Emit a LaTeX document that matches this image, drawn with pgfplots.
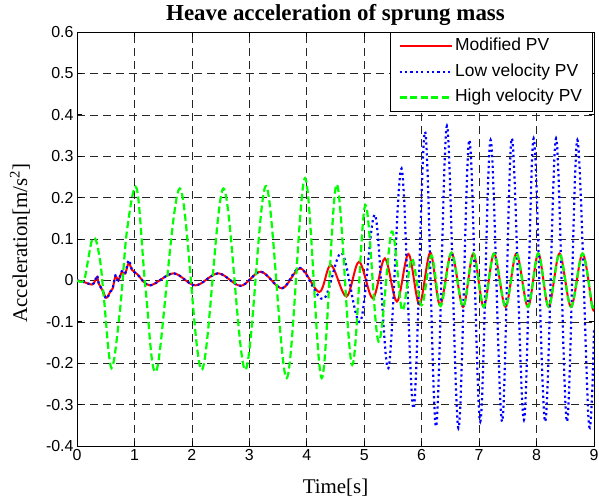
\documentclass[border=0pt]{standalone}
\usepackage{pgfplots}
\pgfplotsset{compat=1.18}
\usepackage{fontspec}
\setmainfont{Liberation Serif}
\newfontfamily\arial{Liberation Sans}
\usetikzlibrary{calc}
\begin{document}
\begin{tikzpicture}
\begin{axis}[
  scale only axis,
  width=517bp, height=414bp,
  xmin=0, xmax=9, ymin=-0.4, ymax=0.6,
  xtick={0,1,...,9},
  ytick={-0.4,-0.3,-0.2,-0.1,0,0.1,0.2,0.3,0.4,0.5,0.6},
  yticklabels={-0.4,-0.3,-0.2,-0.1,0,0.1,0.2,0.3,0.4,0.5,0.6},
  /pgf/number format/assume math mode=true,
  tick label style={font=\arial\fontsize{16}{19}\selectfont, black},
  tick align=inside, tick pos=both,
  major tick length=5bp,
  every tick/.style={black, line width=0.7bp},
  axis line style={black, line width=0.8bp},
  grid=major,
  major grid style={black!85, line width=0.6bp, dash pattern=on 8bp off 5bp},
  title={\bfseries Heave acceleration of sprung mass},
  every axis title/.style={at={(axis description cs:0.5,1.0266)}, anchor=base, font=\fontsize{23}{27}\selectfont},
  xlabel={Time[s]},
  xlabel style={at={(axis description cs:0.5,-0.1135)}, anchor=base, font=\fontsize{21}{25}\selectfont},
  ylabel={Acceleration[m/s\textsuperscript{2}]},
  ylabel style={at={(axis description cs:-0.0967,0.49)}, anchor=base, rotate=0, font=\fontsize{21}{25}\selectfont},
  legend style={at={(axis description cs:1,1)}, anchor=north east, xshift=-1bp,
    draw=black, line width=0.8bp, fill=white, inner xsep=8bp, inner ysep=3bp,
    font=\arial\fontsize{17.5}{20}\selectfont, row sep=3.5bp,
    nodes={inner sep=2.5bp, text height=13bp, text depth=4bp}},
  legend cell align=left,
  legend image code/.code={\draw[#1] (0bp,0bp) -- (52bp,0bp);},
]
\coordinate (SW) at (rel axis cs:0,0);
\coordinate (NE) at (rel axis cs:1,1);
% Modified PV
\addplot[red, line width=2bp, smooth, tension=0.55] coordinates {
(0,0) (0.12,-0.004) (0.26,-0.010) (0.31,-0.002) (0.35,0.008) (0.38,-0.008)
(0.44,-0.023) (0.51,-0.042) (0.58,-0.027) (0.62,-0.020) (0.67,0.010) (0.72,0.000)
(0.78,0.020) (0.84,0.017) (0.90,0.042) (0.96,0.025) (1.05,0.015) (1.27,-0.012)
(1.68,0.017) (2.06,-0.012) (2.46,0.017) (2.85,-0.013) (3.20,0.021) (3.57,-0.019)
(3.89,0.029) (4.22,-0.028) (4.42,0.037) (4.69,-0.039) (4.91,0.045) (5.15,-0.043)
(5.36,0.053) (5.57,-0.051) (5.77,0.064) (5.96,-0.058) (6.15,0.067) (6.32,-0.060)
(6.52,0.067) (6.72,-0.064) (6.90,0.065) (7.08,-0.064) (7.26,0.065) (7.46,-0.064)
(7.65,0.065) (7.85,-0.064) (8.03,0.065) (8.21,-0.064) (8.40,0.065) (8.60,-0.064)
(8.80,0.065) (8.97,-0.064) (9.0,-0.060)
};
\addlegendentry{Modified PV}
% Low velocity PV
\addplot[blue, line width=2.2bp, dash pattern=on 2.2bp off 3.2bp, smooth, tension=0.55] coordinates {
(0,0) (0.12,-0.004) (0.26,-0.010) (0.31,-0.002) (0.35,0.012) (0.38,-0.008)
(0.44,-0.023) (0.51,-0.044) (0.58,-0.027) (0.62,-0.020) (0.67,0.012) (0.72,0.000)
(0.78,0.022) (0.84,0.017) (0.90,0.049) (0.96,0.025) (1.05,0.015) (1.27,-0.012)
(1.68,0.017) (2.06,-0.012) (2.46,0.017) (2.85,-0.013) (3.20,0.021) (3.57,-0.019)
(3.89,0.030) (4.29,-0.045) (4.61,0.066) (4.93,-0.100) (5.19,0.158) (5.42,-0.212)
(5.65,0.270) (5.86,-0.309) (6.06,0.359) (6.25,-0.353) (6.44,0.373) (6.64,-0.357)
(6.83,0.339) (7.02,-0.341) (7.20,0.339) (7.40,-0.341) (7.57,0.343) (7.78,-0.337)
(7.95,0.343) (8.15,-0.341) (8.34,0.343) (8.53,-0.341) (8.71,0.339) (8.91,-0.345)
(9.0,-0.12)
};
\addlegendentry{Low velocity PV}
% High velocity PV
\addplot[green, line width=2.2bp, dash pattern=on 7bp off 3.5bp, smooth, tension=0.55] coordinates {
(0,0) (0.12,0.000) (0.20,0.055) (0.26,0.097) (0.33,0.097) (0.41,0.040)
(0.47,-0.045) (0.60,-0.212) (0.75,-0.070) (0.87,0.120) (1.04,0.222) (1.20,-0.030)
(1.39,-0.215) (1.79,0.222) (2.17,-0.216) (2.55,0.222) (2.93,-0.216) (3.29,0.228)
(3.65,-0.236) (3.97,0.247) (4.26,-0.236) (4.52,0.232) (4.79,-0.204) (5.02,0.182)
(5.25,-0.148) (5.48,0.118) (5.66,-0.072) (5.83,0.053) (6.00,-0.060) (6.17,0.060)
(6.33,-0.062) (6.52,0.067) (6.72,-0.064) (6.90,0.065) (7.08,-0.064) (7.26,0.065)
(7.46,-0.064) (7.65,0.065) (7.85,-0.064) (8.03,0.065) (8.21,-0.064) (8.40,0.065)
(8.60,-0.064) (8.80,0.065) (8.97,-0.064) (9.0,-0.060)
};
\addlegendentry{High velocity PV}
\end{axis}
\pgfresetboundingbox
\path[use as bounding box] ($(SW)+(-77bp,-55bp)$) rectangle ($(NE)+(5bp,32bp)$);
\end{tikzpicture}
\end{document}
